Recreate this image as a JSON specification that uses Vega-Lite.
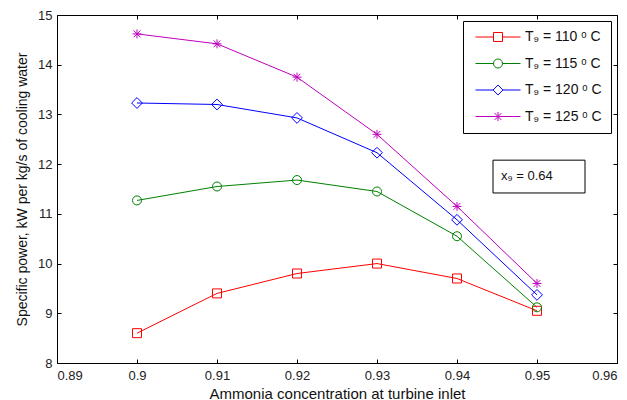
{
  "$schema": "https://vega.github.io/schema/vega-lite/v6.json",
  "width": 560,
  "height": 348,
  "autosize": "none",
  "padding": {"left": 57, "top": 15, "right": 10, "bottom": 37},
  "background": "white",
  "config": {
    "font": "Liberation Sans",
    "view": {"stroke": "black", "strokeWidth": 1},
    "axis": {
      "grid": false,
      "domain": false,
      "tickColor": "black",
      "tickSize": -4,
      "labelFont": "Liberation Sans",
      "labelFontSize": 13,
      "labelColor": "#222222",
      "titleFont": "Liberation Sans",
      "titleFontWeight": "normal",
      "titleColor": "#111111"
    },
    "legend": {
      "orient": "top-right",
      "offset": 6,
      "strokeColor": "black",
      "fillColor": "white",
      "padding": 9,
      "rowPadding": 12.5,
      "symbolSize": 81,
      "symbolStrokeWidth": 1,
      "symbolOffset": 19,
      "labelOffset": 20,
      "labelFontSize": 14,
      "labelFont": "Liberation Sans",
      "labelColor": "#111111"
    }
  },
  "datasets": {
    "series": [
      {"x": 0.90, "y": 8.6, "T": "110"},
      {"x": 0.91, "y": 9.4, "T": "110"},
      {"x": 0.92, "y": 9.8, "T": "110"},
      {"x": 0.93, "y": 10.0, "T": "110"},
      {"x": 0.94, "y": 9.7, "T": "110"},
      {"x": 0.95, "y": 9.05, "T": "110"},
      {"x": 0.90, "y": 11.27, "T": "115"},
      {"x": 0.91, "y": 11.55, "T": "115"},
      {"x": 0.92, "y": 11.68, "T": "115"},
      {"x": 0.93, "y": 11.45, "T": "115"},
      {"x": 0.94, "y": 10.55, "T": "115"},
      {"x": 0.95, "y": 9.12, "T": "115"},
      {"x": 0.90, "y": 13.23, "T": "120"},
      {"x": 0.91, "y": 13.2, "T": "120"},
      {"x": 0.92, "y": 12.93, "T": "120"},
      {"x": 0.93, "y": 12.23, "T": "120"},
      {"x": 0.94, "y": 10.88, "T": "120"},
      {"x": 0.95, "y": 9.37, "T": "120"},
      {"x": 0.90, "y": 14.62, "T": "125"},
      {"x": 0.91, "y": 14.42, "T": "125"},
      {"x": 0.92, "y": 13.75, "T": "125"},
      {"x": 0.93, "y": 12.6, "T": "125"},
      {"x": 0.94, "y": 11.15, "T": "125"},
      {"x": 0.95, "y": 9.6, "T": "125"}
    ],
    "note": [
      {"x": 0.9445, "x2": 0.956, "y": 12.08, "y2": 11.42, "ty": 11.77, "label": "x₉ = 0.64"}
    ]
  },
  "layer": [
    {
      "data": {"name": "series"},
      "mark": {"type": "line", "strokeWidth": 1},
      "encoding": {
        "x": {
          "field": "x", "type": "quantitative",
          "scale": {"domain": [0.89, 0.96], "nice": false, "zero": false},
          "axis": {
            "orient": "bottom",
            "values": [0.89, 0.90, 0.91, 0.92, 0.93, 0.94, 0.95, 0.96],
            "format": ".2~f",
            "labelPadding": 10,
            "title": "Ammonia concentration at turbine inlet",
            "titleFontSize": 15,
            "titlePadding": 4
          }
        },
        "y": {
          "field": "y", "type": "quantitative",
          "scale": {"domain": [8, 15], "nice": false, "zero": false},
          "axis": {
            "orient": "left",
            "values": [8, 9, 10, 11, 12, 13, 14, 15],
            "labelPadding": 9,
            "title": "Specific power, kW per kg/s of cooling water",
            "titleFontSize": 14,
            "titlePadding": 8
          }
        },
        "color": {
          "field": "T", "type": "nominal",
          "scale": {"domain": ["110", "115", "120", "125"], "range": ["#ff0000", "#008000", "#0000ff", "#bf00bf"]},
          "legend": {
            "title": null,
            "labelExpr": "'T₉ = ' + datum.label + ' ᵒ C'",
            "encode": {
              "symbols": {
                "update": {
                  "fill": {"value": "transparent"},
                  "shape": {"signal": "datum.value == '110' ? 'M-5,0H-1M1,0H5M-1,-1H1V1H-1Z' : datum.value == '115' ? 'M-5,0H-1M1,0H5M-1,0A1,1 0 1,0 1,0A1,1 0 1,0 -1,0' : datum.value == '120' ? 'M-5,0H-1.1M1.1,0H5M0,-1.1L1.1,0L0,1.1L-1.1,0Z' : 'M-5,0H5M0,-1V1M-0.75,-0.75L0.75,0.75M-0.75,0.75L0.75,-0.75'"}
                }
              }
            }
          }
        }
      }
    },
    {
      "data": {"name": "series"},
      "mark": {"type": "point", "opacity": 0},
      "encoding": {
        "x": {
          "field": "x", "type": "quantitative",
          "axis": {"orient": "top", "values": [0.89, 0.90, 0.91, 0.92, 0.93, 0.94, 0.95, 0.96], "labels": false, "title": null, "tickSize": -4}
        },
        "y": {
          "field": "y", "type": "quantitative",
          "axis": {"orient": "right", "values": [8, 9, 10, 11, 12, 13, 14, 15], "labels": false, "title": null, "tickSize": -4}
        }
      }
    },
    {
      "data": {"name": "series"},
      "transform": [{"filter": "datum.T == '110'"}],
      "mark": {"type": "point", "filled": false, "size": 81, "strokeWidth": 1, "opacity": 1, "shape": "M-1,-1H1V1H-1Z"},
      "encoding": {
        "x": {"field": "x", "type": "quantitative", "axis": null},
        "y": {"field": "y", "type": "quantitative", "axis": null},
        "color": {"field": "T", "type": "nominal", "legend": null}
      }
    },
    {
      "data": {"name": "series"},
      "transform": [{"filter": "datum.T == '115'"}],
      "mark": {"type": "point", "filled": false, "size": 81, "strokeWidth": 1, "opacity": 1, "shape": "M-1,0A1,1 0 1,0 1,0A1,1 0 1,0 -1,0"},
      "encoding": {
        "x": {"field": "x", "type": "quantitative", "axis": null},
        "y": {"field": "y", "type": "quantitative", "axis": null},
        "color": {"field": "T", "type": "nominal", "legend": null}
      }
    },
    {
      "data": {"name": "series"},
      "transform": [{"filter": "datum.T == '120'"}],
      "mark": {"type": "point", "filled": false, "size": 81, "strokeWidth": 1, "opacity": 1, "shape": "M0,-1.2L1.2,0L0,1.2L-1.2,0Z"},
      "encoding": {
        "x": {"field": "x", "type": "quantitative", "axis": null},
        "y": {"field": "y", "type": "quantitative", "axis": null},
        "color": {"field": "T", "type": "nominal", "legend": null}
      }
    },
    {
      "data": {"name": "series"},
      "transform": [{"filter": "datum.T == '125'"}],
      "mark": {"type": "point", "filled": false, "size": 81, "strokeWidth": 1, "opacity": 1, "shape": "M0,-1V1M-1,0H1M-0.75,-0.75L0.75,0.75M-0.75,0.75L0.75,-0.75"},
      "encoding": {
        "x": {"field": "x", "type": "quantitative", "axis": null},
        "y": {"field": "y", "type": "quantitative", "axis": null},
        "color": {"field": "T", "type": "nominal", "legend": null}
      }
    },
    {
      "data": {"name": "note"},
      "mark": {"type": "rect", "fill": "white", "stroke": "black", "strokeWidth": 1},
      "encoding": {
        "x": {"field": "x", "type": "quantitative", "axis": null},
        "x2": {"field": "x2"},
        "y": {"field": "y", "type": "quantitative", "axis": null},
        "y2": {"field": "y2"}
      }
    },
    {
      "data": {"name": "note"},
      "mark": {"type": "text", "align": "left", "baseline": "middle", "dx": 8, "fontSize": 13, "font": "Liberation Sans", "color": "#111111"},
      "encoding": {
        "x": {"field": "x", "type": "quantitative", "axis": null},
        "y": {"field": "ty", "type": "quantitative", "axis": null},
        "text": {"field": "label"}
      }
    }
  ],
  "resolve": {"axis": {"x": "independent", "y": "independent"}}
}
